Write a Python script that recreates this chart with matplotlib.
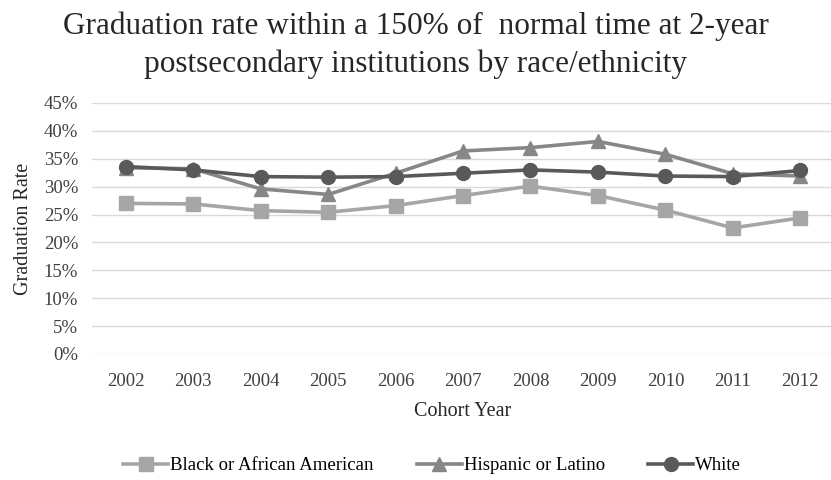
import matplotlib.pyplot as plt
from matplotlib.ticker import PercentFormatter

years = ["2002", "2003", "2004", "2005", "2006", "2007", "2008", "2009", "2010", "2011", "2012"]
black = [27.0, 26.9, 25.7, 25.4, 26.6, 28.4, 30.1, 28.4, 25.8, 22.6, 24.4]
hispanic = [33.4, 33.2, 29.6, 28.6, 32.4, 36.4, 37.0, 38.1, 35.8, 32.3, 31.9]
white = [33.6, 33.0, 31.8, 31.7, 31.8, 32.4, 33.0, 32.6, 31.9, 31.8, 32.9]

plt.rcParams['font.family'] = ['Liberation Serif', 'DejaVu Serif']

fig = plt.figure(figsize=(8.31, 4.8), dpi=100)
ax = fig.add_axes([0.1107, 0.2625, 0.893, 0.523])

x = list(range(len(years)))
ax.plot(x, black, color="#a6a6a6", lw=2.6, marker="s", ms=10, label="Black or African American")
ax.plot(x, hispanic, color="#878787", lw=2.6, marker="^", ms=10, label="Hispanic or Latino")
ax.plot(x, white, color="#595959", lw=2.6, marker="o", ms=10, label="White")

ax.set_xlim(-0.5, len(years) - 0.5)
ax.set_ylim(0, 45)
ax.set_yticks(range(0, 46, 5))
ax.yaxis.set_major_formatter(PercentFormatter(decimals=0))
ax.set_xticks(x)
ax.set_xticklabels(years)
ax.grid(axis="y", color="#d9d9d9", lw=1)
ax.set_axisbelow(True)
for s in ax.spines.values():
    s.set_visible(False)
ax.tick_params(axis="x", length=0, labelsize=13.5, colors="#404040", pad=14)
ax.tick_params(axis="y", length=0, labelsize=13.5, colors="#404040", pad=10)

ax.set_ylabel("Graduation Rate", fontsize=14.5, color="#262626")
ax.yaxis.set_label_coords(-0.08, 0.5)
ax.set_xlabel("Cohort Year", fontsize=14.5, color="#262626", labelpad=8)

fig.text(0.5, 0.977, "Graduation rate within a 150% of  normal time at 2-year\npostsecondary institutions by race/ethnicity",
         ha="center", va="top", fontsize=22.5, color="#262626", linespacing=1.38)

fig.legend(loc="center", bbox_to_anchor=(0.52, 0.03), ncol=3, frameon=False,
           fontsize=13.5, handlelength=2.4, columnspacing=2.3, handletextpad=0.1)

fig.savefig("out.png", dpi=100)
